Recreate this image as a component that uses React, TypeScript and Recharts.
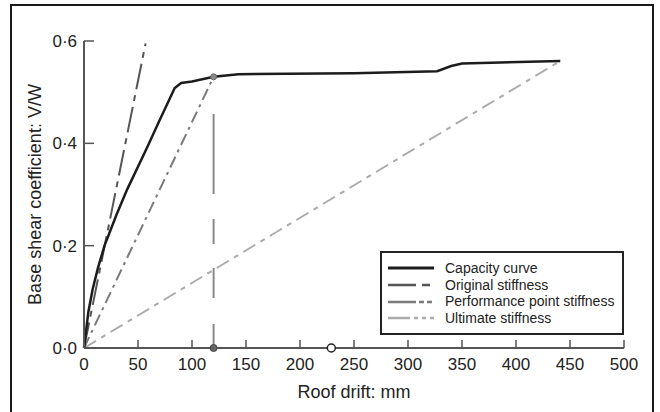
import { ComposedChart, Line, XAxis, YAxis, ReferenceDot, Legend, Label } from 'recharts';

const FONT = '"Liberation Sans", Arial, Helvetica, sans-serif';

// capacity curve (pushover)
const capacityDrift = [0, 4, 8, 13, 19, 30, 40, 58, 70, 84, 90, 100, 120, 143, 250, 327, 340, 350, 441];
const capacityShear = [0, 0.07, 0.115, 0.157, 0.2, 0.26, 0.31, 0.39, 0.445, 0.508, 0.518, 0.521, 0.53, 0.535, 0.537, 0.541, 0.551, 0.556, 0.561];

const originalDrift = [0, 57];
const originalShear = [0, 0.595];

const performanceDrift = [0, 120];
const performanceShear = [0, 0.53];

const ultimateDrift = [0, 441];
const ultimateShear = [0, 0.561];

const perfDropDrift = [120, 120];
const perfDropShear = [0, 0.53];

const xTicks = [0, 50, 100, 150, 200, 250, 300, 350, 400, 450, 500];
const yTicks = [0, 0.2, 0.4, 0.6];

const legendNames = ['Capacity curve', 'Original stiffness', 'Performance point stiffness', 'Ultimate stiffness'];

const toRows = (xs: number[], ys: number[]) => xs.map((x, i) => ({ x, y: ys[i] }));

const styles = [
  { stroke: '#1c1c1c', width: 2.5, dash: undefined as string | undefined, legendDash: undefined as string | undefined },
  { stroke: '#555', width: 2, dash: '26 6 6 6', legendDash: '28 6 8 20' },
  { stroke: '#7a7a7a', width: 2, dash: '12 5 3 5', legendDash: '28 3 5 3 5 10' },
  { stroke: '#ababab', width: 2, dash: '14 6 5 6', legendDash: '22 4 4 4 4 4 4 10' },
];

const XTick = (props: any) => {
  const { x, y, payload } = props;
  return (
    <g>
      <line x1={x} x2={x} y1={y - 10} y2={y - 18} stroke="#555" strokeWidth={1.5} />
      <text x={x} y={y} dy="0.71em" textAnchor="middle" fontSize={17} fill="#222" fontFamily={FONT}>
        {payload.value}
      </text>
    </g>
  );
};

const YTick = (props: any) => {
  const { x, y, payload } = props;
  return (
    <g>
      <line x1={x + 7} x2={x + 17} y1={y} y2={y} stroke="#555" strokeWidth={1.5} />
      <text x={x} y={y} dy="0.35em" textAnchor="end" fontSize={17} fill="#222" fontFamily={FONT}>
        {Number(payload.value).toFixed(1).replace('.', '·')}
      </text>
    </g>
  );
};

const LegendBox = () => (
  <div
    style={{
      boxSizing: 'border-box',
      width: 244,
      height: 84,
      border: '2px solid #222',
      background: '#fff',
      padding: '7px 0 0 6px',
      fontFamily: FONT,
      fontSize: 14,
      color: '#222',
    }}
  >
    {legendNames.map((name, i) => (
      <div key={name} style={{ display: 'flex', alignItems: 'center', height: 16.7, lineHeight: '16.7px' }}>
        <svg width={46} height={8} style={{ marginRight: 11 }}>
          <line x1={0} x2={46} y1={4} y2={4} stroke={styles[i].stroke} strokeWidth={i === 0 ? 3 : 2.5} strokeDasharray={styles[i].legendDash} />
        </svg>
        <span>{name}</span>
      </div>
    ))}
  </div>
);

export default function App() {
  return (
    <div style={{ position: 'absolute', left: 0, top: 0, width: 660, height: 412, background: '#fff', overflow: 'hidden' }}>
      <div
        style={{
          position: 'absolute',
          left: 10,
          top: 4,
          width: 644,
          height: 440,
          boxSizing: 'border-box',
          border: '2.5px solid #1a1a1a',
        }}
      />
      <div style={{ position: 'absolute', left: 0, top: 0 }}>
        <ComposedChart width={660} height={412} margin={{ top: 41, right: 36, bottom: 24, left: 24 }}>
          <XAxis
            type="number"
            dataKey="x"
            domain={[0, 500]}
            ticks={xTicks}
            interval={0}
            height={40}
            tickLine={false}
            tickSize={0}
            tickMargin={10}
            tick={<XTick />}
            axisLine={{ stroke: '#555', strokeWidth: 2 }}
          >
            <Label value="Roof drift: mm" position="center" dy={24} fontSize={18} fill="#222" fontFamily={FONT} />
          </XAxis>
          <YAxis
            type="number"
            dataKey="y"
            domain={[0, 0.6]}
            ticks={yTicks}
            interval={0}
            width={60}
            tickLine={false}
            tickSize={0}
            tickMargin={7}
            tick={<YTick />}
            axisLine={{ stroke: '#555', strokeWidth: 2 }}
          >
            <Label value="Base shear coefficient: V/W" position="center" angle={-90} dx={-19} fontSize={18} fill="#222" fontFamily={FONT} />
          </YAxis>
          <Line data={toRows(ultimateDrift, ultimateShear)} dataKey="y" name={legendNames[3]} stroke={styles[3].stroke} strokeWidth={2} strokeDasharray={styles[3].dash} dot={false} isAnimationActive={false} />
          <Line data={toRows(performanceDrift, performanceShear)} dataKey="y" name={legendNames[2]} stroke={styles[2].stroke} strokeWidth={2} strokeDasharray={styles[2].dash} dot={false} isAnimationActive={false} />
          <Line data={toRows(perfDropDrift, perfDropShear)} dataKey="y" legendType="none" stroke="#8a8a8a" strokeWidth={2} strokeDasharray="24 26 30 24 25 25 80 40" dot={false} isAnimationActive={false} />
          <Line data={toRows(originalDrift, originalShear)} dataKey="y" name={legendNames[1]} stroke={styles[1].stroke} strokeWidth={2} strokeDasharray={styles[1].dash} dot={false} isAnimationActive={false} />
          <Line data={toRows(capacityDrift, capacityShear)} dataKey="y" name={legendNames[0]} stroke={styles[0].stroke} strokeWidth={2.5} dot={false} isAnimationActive={false} />
          <ReferenceDot x={120} y={0.53} r={3} fill="#8a8a8a" stroke="#666" strokeWidth={1} />
          <ReferenceDot x={120} y={0} r={3.5} fill="#666" stroke="#444" strokeWidth={1} />
          <ReferenceDot x={229} y={0} r={4} fill="#fff" stroke="#222" strokeWidth={1.5} />
          <Legend
            layout="vertical"
            align="center"
            verticalAlign="middle"
            content={() => <LegendBox />}
            wrapperStyle={{ position: 'absolute', left: 380, top: 251, width: 244, height: 84, margin: 0 }}
          />
        </ComposedChart>
      </div>
    </div>
  );
}
